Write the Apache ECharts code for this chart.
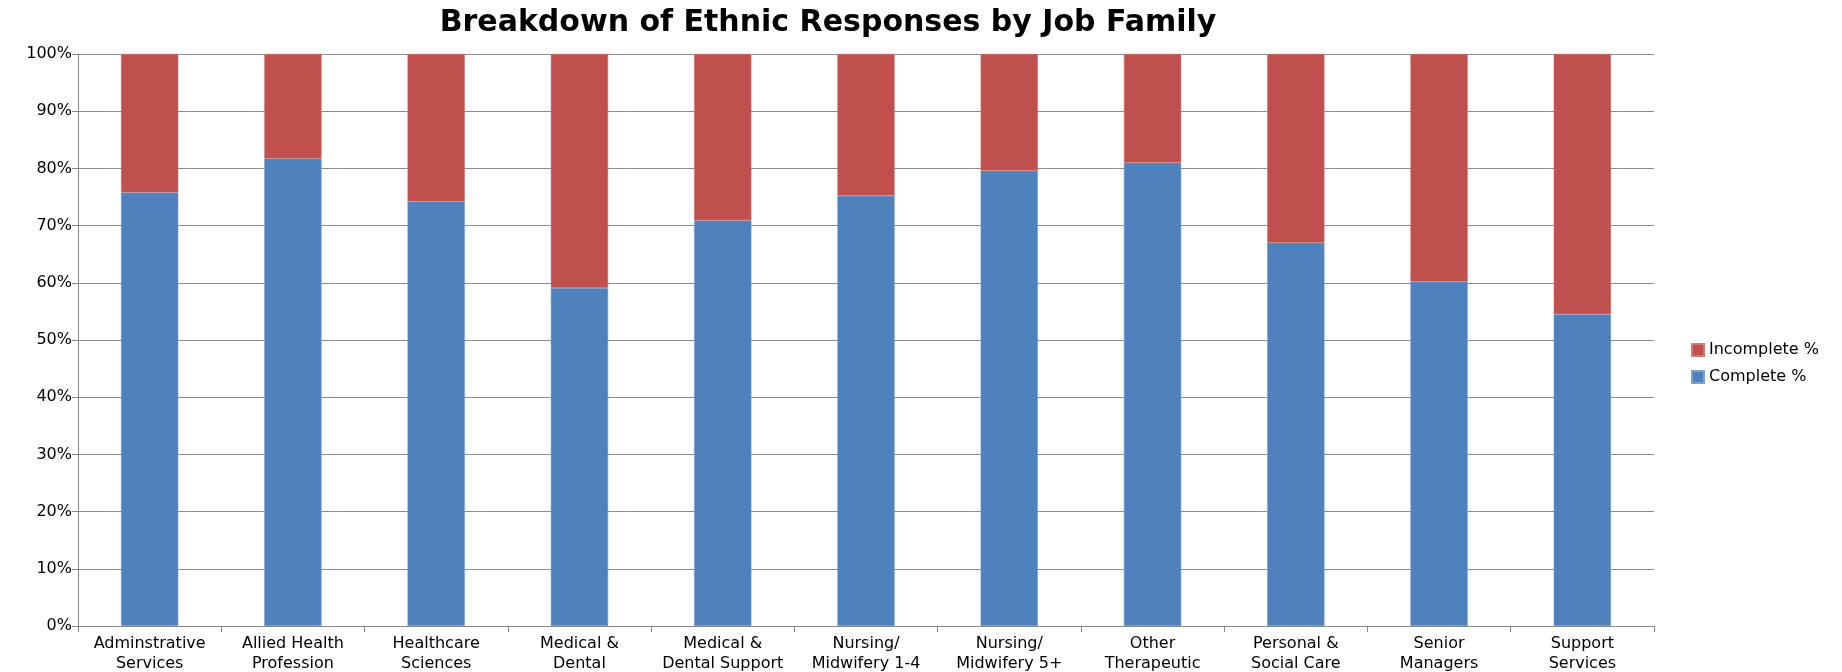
<!DOCTYPE html>
<html>
<head>
<meta charset="utf-8">
<script src="https://cdn.jsdelivr.net/npm/echarts@6/dist/echarts.min.js"></script>
<style>
html,body{margin:0;padding:0;background:#fff;}
#chart{width:1842px;height:672px;}
</style>
</head>
<body>
<div id="chart"></div>
<script>
const titleText = 'Breakdown of Ethnic Responses by Job Family';
const categories = [
  'Adminstrative\nServices',
  'Allied Health\nProfession',
  'Healthcare\nSciences',
  'Medical &\nDental',
  'Medical &\nDental Support',
  'Nursing/\nMidwifery 1-4',
  'Nursing/\nMidwifery 5+',
  'Other\nTherapeutic',
  'Personal &\nSocial Care',
  'Senior\nManagers',
  'Support\nServices'
];
const completePct = [75.8, 81.7, 74.2, 59.1, 70.9, 75.2, 79.6, 81.0, 67.0, 60.2, 54.5];
const incompletePct = [24.2, 18.3, 25.8, 40.9, 29.1, 24.8, 20.4, 19.0, 33.0, 39.8, 45.5];
const seriesNames = ['Complete %', 'Incomplete %'];

const chart = echarts.init(document.getElementById('chart'));
const font = 'DejaVu Sans';
chart.setOption({
  animation: false,
  backgroundColor: '#ffffff',
  title: {
    text: titleText,
    left: 823,
    textAlign: 'center',
    top: 3,
    textStyle: {fontFamily: font, fontWeight: 'bold', fontSize: 30, color: '#000'}
  },
  legend: {
    orient: 'vertical',
    left: 1686,
    top: 337,
    icon: 'rect',
    itemWidth: 12,
    itemHeight: 12,
    itemGap: 11,
    data: ['Incomplete %', 'Complete %'],
    textStyle: {fontFamily: font, fontSize: 16, color: '#000'}
  },
  grid: {left: 78, right: 188, top: 54, bottom: 46, containLabel: false, outerBoundsMode: 'none'},
  xAxis: {
    type: 'category',
    data: categories,
    axisLine: {lineStyle: {color: '#868686', width: 1}},
    axisTick: {show: true, length: 6, lineStyle: {color: '#868686'}},
    axisLabel: {fontFamily: font, fontSize: 16, color: '#000', lineHeight: 20, margin: 8, interval: 0}
  },
  yAxis: {
    type: 'value',
    min: 0,
    max: 100,
    interval: 10,
    axisLine: {show: true, lineStyle: {color: '#868686', width: 1}},
    axisTick: {show: true, length: 6, lineStyle: {color: '#868686'}},
    axisLabel: {formatter: '{value}%', fontFamily: font, fontSize: 16, color: '#000', margin: 6},
    splitLine: {lineStyle: {color: '#8c8c8c', width: 1}}
  },
  series: [
    {
      name: seriesNames[0], type: 'bar', stack: 'total', data: completePct,
      barWidth: '40%',
      itemStyle: {color: '#4F81BD', borderColor: '#7ea1cf', borderWidth: 0.5}
    },
    {
      name: seriesNames[1], type: 'bar', stack: 'total', data: incompletePct,
      barWidth: '40%',
      itemStyle: {color: '#C0504D', borderColor: '#d17c79', borderWidth: 0.5}
    }
  ]
});
</script>
</body>
</html>
